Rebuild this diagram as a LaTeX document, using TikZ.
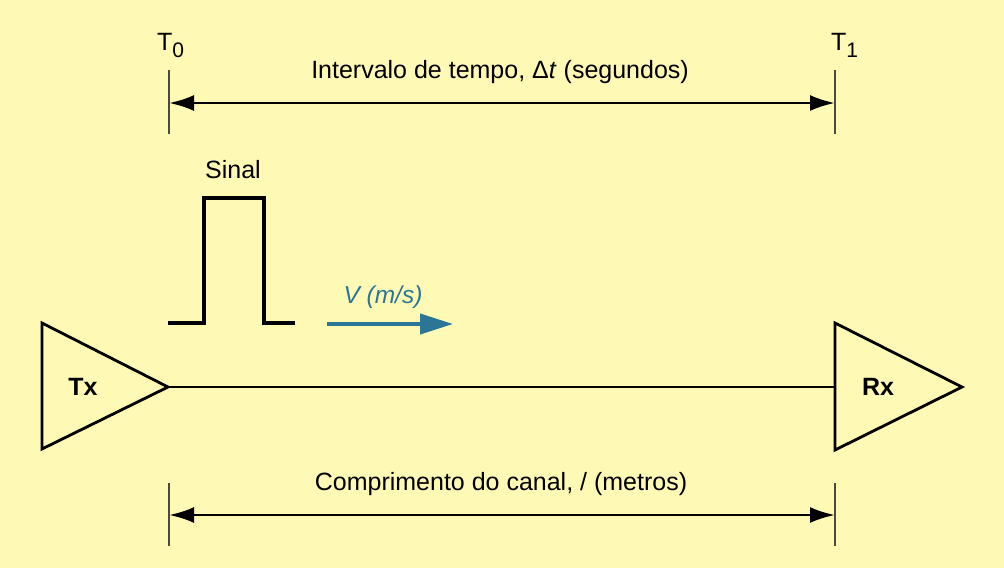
\documentclass[tikz,border=0pt]{standalone}
\usepackage{fontspec}
\setmainfont{Liberation Sans}
\usetikzlibrary{arrows.meta}
\definecolor{bg}{HTML}{FFF9B6}
\definecolor{teal}{HTML}{2B7596}
\definecolor{tick}{HTML}{4A4A40}
\begin{document}
\begin{tikzpicture}[x=1pt,y=-1pt,
  txt/.style={inner sep=0pt,font=\fontsize{25}{30}\selectfont},
  dimarrow/.style={line width=2.8pt,{Latex[length=25pt,width=16pt]}-{Latex[length=25pt,width=16pt]}},
  ticklin/.style={line width=1.3pt,tick},
  amp/.style={line width=2.8pt,line join=miter}]
\fill[bg] (0,0) rectangle (1004,568);
\useasboundingbox (0,0) rectangle (1004,568);
% ticks
\coordinate (t0a) at (169,70); \coordinate (t0b) at (169,134);
\coordinate (t1a) at (835,70); \coordinate (t1b) at (835,134);
\coordinate (b0a) at (169,483); \coordinate (b0b) at (169,546);
\coordinate (b1a) at (835,483); \coordinate (b1b) at (835,546);
\draw[ticklin] (t0a) -- (t0b);
\draw[ticklin] (t1a) -- (t1b);
\draw[ticklin] (b0a) -- (b0b);
\draw[ticklin] (b1a) -- (b1b);
% dimension arrows
\coordinate (d0) at (169,103); \coordinate (d1) at (835,103);
\coordinate (e0) at (169,515); \coordinate (e1) at (835,515);
\draw[dimarrow] (d0) -- (d1);
\draw[dimarrow] (e0) -- (e1);
% labels
\node[txt,anchor=base west] (T0) at (157,50) {T\raisebox{-7pt}{\fontsize{21}{24}\selectfont 0}};
\node[txt,anchor=base west] (T1) at (831,50) {T\raisebox{-7pt}{\fontsize{21}{24}\selectfont 1}};
\node[txt] (dt) at (500,72) {Intervalo de tempo, Δ\textit{t} (segundos)};
\node[txt] (len) at (501,484) {Comprimento do canal, / (metros)};
\node[txt] (sig) at (233,170) {Sinal};
\node[txt,text=teal,font=\fontsize{24.5}{28}\selectfont\itshape] (vel) at (383,297) {V (m/s)};
% pulse
\draw[line width=4pt,line join=miter] (168,323) -- (204,323) -- (204,198) -- (264,198) -- (264,323) -- (295,323);
% velocity arrow
\coordinate (va) at (327,324); \coordinate (vb) at (453,324);
\draw[teal,line width=4pt,-{Triangle[length=33pt,width=20pt]}] (va) -- (vb);
% triangles
\draw[amp] (42,323) -- (168,387) -- (42,449) -- cycle;
\draw[amp] (835,323) -- (962,387) -- (835,450) -- cycle;
\coordinate (txtip) at (168,387); \coordinate (rxin) at (835,387);
\draw[line width=2.3pt] (txtip) -- (rxin);
\node[txt,font=\fontsize{25}{30}\selectfont\bfseries] (tx) at (83,387) {Tx};
\node[txt,font=\fontsize{25}{30}\selectfont\bfseries] (rx) at (878,387) {Rx};
\end{tikzpicture}
\end{document}
